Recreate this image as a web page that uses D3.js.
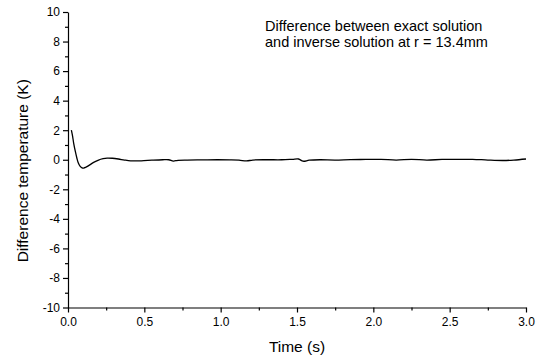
<!DOCTYPE html>
<html>
<head>
<meta charset="utf-8">
<script src="https://cdn.jsdelivr.net/npm/d3@7"></script>
<style>
  body { margin: 0; background: #fff; }
  text { font-family: "Liberation Sans", Arial, sans-serif; fill: #000; }
</style>
</head>
<body>
<div id="wrapper"></div>
<script>
const times = [0.022, 0.03, 0.037, 0.048, 0.058, 0.067, 0.08, 0.092, 0.102, 0.115, 0.135, 0.168, 0.2, 0.23, 0.256, 0.29, 0.33, 0.37, 0.41, 0.48, 0.55, 0.62, 0.66, 0.69, 0.72, 0.78, 0.88, 0.98, 1.06, 1.12, 1.17, 1.21, 1.3, 1.4, 1.47, 1.51, 1.54, 1.58, 1.65, 1.75, 1.85, 1.95, 2.05, 2.15, 2.25, 2.35, 2.45, 2.55, 2.65, 2.75, 2.85, 2.92, 3.0]
const diffs = [2.0, 1.6, 1.13, 0.56, 0.12, -0.2, -0.45, -0.55, -0.56, -0.52, -0.4, -0.18, -0.02, 0.07, 0.11, 0.1, 0.05, -0.02, -0.07, -0.07, -0.03, 0.0, 0.0, -0.09, -0.04, -0.02, -0.01, 0.0, -0.01, -0.03, -0.08, -0.02, 0.0, 0.0, 0.03, 0.05, -0.1, -0.03, 0.0, -0.02, 0.01, 0.02, 0.03, -0.02, 0.03, -0.02, 0.02, 0.02, 0.03, -0.02, -0.05, -0.02, 0.05]
const xTicks = [0, 0.5, 1.0, 1.5, 2.0, 2.5, 3.0]
const yTicks = [-10, -8, -6, -4, -2, 0, 2, 4, 6, 8, 10]
const noteLines = ["Difference between exact solution", "and inverse solution at r = 13.4mm"]

const dataset = times.map((t, i) => ({ t: t, v: diffs[i] }))

let dimensions = {
  width: 539,
  height: 360,
  margin: { top: 12, right: 13, bottom: 52, left: 68 },
}
dimensions.boundedWidth = dimensions.width - dimensions.margin.left - dimensions.margin.right
dimensions.boundedHeight = dimensions.height - dimensions.margin.top - dimensions.margin.bottom

const wrapper = d3.select("#wrapper")
  .append("svg")
    .attr("width", dimensions.width)
    .attr("height", dimensions.height)

const bounds = wrapper.append("g")
    .attr("transform", `translate(${dimensions.margin.left},${dimensions.margin.top})`)

const xScale = d3.scaleLinear()
  .domain([0, 3])
  .range([0, 458])

const yScale = d3.scaleLinear()
  .domain([-10, 10])
  .range([295.5, 0])

// minor ticks first, then major
const xMinor = d3.range(0.25, 3, 0.5)
const yMinor = d3.range(-9, 10, 2)

bounds.append("g")
    .attr("transform", `translate(0,${yScale(-10)})`)
    .call(d3.axisBottom(xScale).tickValues(xMinor).tickSize(3).tickFormat(""))
    .call(g => g.select(".domain").remove())

bounds.append("g")
    .call(d3.axisLeft(yScale).tickValues(yMinor).tickSize(3).tickFormat(""))
    .call(g => g.select(".domain").remove())

const xAxis = bounds.append("g")
    .attr("transform", `translate(0,${yScale(-10)})`)
    .call(d3.axisBottom(xScale).tickValues(xTicks).tickSize(5).tickSizeOuter(0).tickPadding(5).tickFormat(d3.format(".1f")))

xAxis.selectAll("text").style("font-size", "12px")

const yAxis = bounds.append("g")
    .call(d3.axisLeft(yScale).tickValues(yTicks).tickSize(5).tickSizeOuter(0).tickPadding(3).tickFormat(d => String(d)))

yAxis.selectAll("text").style("font-size", "12px")

wrapper.selectAll(".domain, .tick line").attr("stroke", "#000").attr("stroke-width", 1.2)

const line = d3.line()
  .x(d => xScale(d.t))
  .y(d => yScale(d.v))
  .curve(d3.curveCatmullRom)

bounds.append("path")
    .datum(dataset)
    .attr("fill", "none")
    .attr("stroke", "#000")
    .attr("stroke-width", 1.3)
    .attr("d", line)

xAxis.append("text")
    .attr("x", xScale(1.5))
    .attr("y", 44)
    .attr("text-anchor", "middle")
    .style("font-size", "15.5px")
    .text("Time (s)")

yAxis.append("text")
    .attr("transform", `translate(-40,${yScale(0) + 11}) rotate(-90)`)
    .attr("text-anchor", "middle")
    .style("font-size", "15.5px")
    .text("Difference temperature (K)")

bounds.append("text")
    .attr("x", 197)
    .attr("y", 19)
    .style("font-size", "14.5px")
  .selectAll("tspan")
  .data(noteLines)
  .join("tspan")
    .attr("x", 197)
    .attr("dy", (d, i) => i ? 16 : 0)
    .text(d => d)
</script>
</body>
</html>
